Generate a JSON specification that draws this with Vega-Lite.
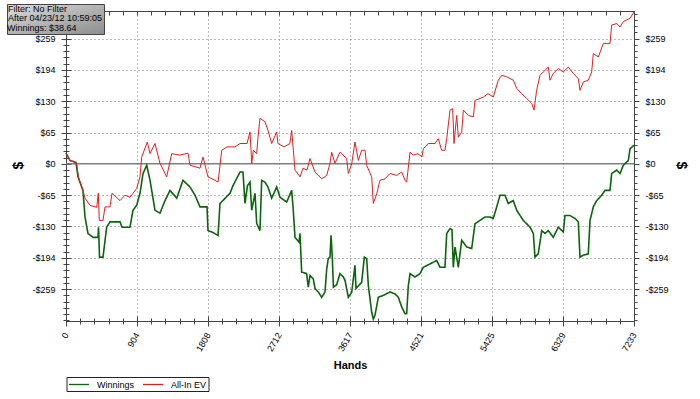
{
  "$schema": "https://vega.github.io/schema/vega-lite/v6.json",
  "autosize": {"type": "none"},
  "padding": {"left": 66, "top": 11, "right": 66, "bottom": 78},
  "width": 568,
  "height": 310,
  "background": "white",
  "config": {
    "font": "Liberation Sans",
    "view": {"stroke": "#444", "strokeWidth": 1},
    "axis": {"labelFont": "Liberation Sans", "labelFontSize": 9, "labelColor": "#000", "domainColor": "#444", "tickColor": "#444", "labelOverlap": false, "labelBound": false, "labelFlush": false}
  },
  "datasets": {
    "pts": [
      {"series": "Winnings", "hands": 0, "dollars": 22},
      {"series": "Winnings", "hands": 51, "dollars": 7},
      {"series": "Winnings", "hands": 127, "dollars": 3},
      {"series": "Winnings", "hands": 153, "dollars": -27},
      {"series": "Winnings", "hands": 216, "dollars": -55},
      {"series": "Winnings", "hands": 242, "dollars": -110},
      {"series": "Winnings", "hands": 280, "dollars": -144},
      {"series": "Winnings", "hands": 344, "dollars": -152},
      {"series": "Winnings", "hands": 407, "dollars": -152},
      {"series": "Winnings", "hands": 414, "dollars": -131},
      {"series": "Winnings", "hands": 427, "dollars": -193},
      {"series": "Winnings", "hands": 471, "dollars": -193},
      {"series": "Winnings", "hands": 518, "dollars": -131},
      {"series": "Winnings", "hands": 560, "dollars": -120},
      {"series": "Winnings", "hands": 688, "dollars": -120},
      {"series": "Winnings", "hands": 713, "dollars": -131},
      {"series": "Winnings", "hands": 815, "dollars": -131},
      {"series": "Winnings", "hands": 853, "dollars": -96},
      {"series": "Winnings", "hands": 900, "dollars": -86},
      {"series": "Winnings", "hands": 942, "dollars": -61},
      {"series": "Winnings", "hands": 981, "dollars": -20},
      {"series": "Winnings", "hands": 1028, "dollars": -3},
      {"series": "Winnings", "hands": 1070, "dollars": -34},
      {"series": "Winnings", "hands": 1133, "dollars": -96},
      {"series": "Winnings", "hands": 1197, "dollars": -102},
      {"series": "Winnings", "hands": 1261, "dollars": -76},
      {"series": "Winnings", "hands": 1324, "dollars": -55},
      {"series": "Winnings", "hands": 1410, "dollars": -71},
      {"series": "Winnings", "hands": 1490, "dollars": -34},
      {"series": "Winnings", "hands": 1579, "dollars": -48},
      {"series": "Winnings", "hands": 1643, "dollars": -65},
      {"series": "Winnings", "hands": 1706, "dollars": -89},
      {"series": "Winnings", "hands": 1796, "dollars": -89},
      {"series": "Winnings", "hands": 1808, "dollars": -138},
      {"series": "Winnings", "hands": 1872, "dollars": -142},
      {"series": "Winnings", "hands": 1936, "dollars": -148},
      {"series": "Winnings", "hands": 1961, "dollars": -82},
      {"series": "Winnings", "hands": 2088, "dollars": -61},
      {"series": "Winnings", "hands": 2127, "dollars": -45},
      {"series": "Winnings", "hands": 2216, "dollars": -17},
      {"series": "Winnings", "hands": 2254, "dollars": -17},
      {"series": "Winnings", "hands": 2279, "dollars": -82},
      {"series": "Winnings", "hands": 2311, "dollars": -45},
      {"series": "Winnings", "hands": 2343, "dollars": -38},
      {"series": "Winnings", "hands": 2365, "dollars": -96},
      {"series": "Winnings", "hands": 2407, "dollars": -61},
      {"series": "Winnings", "hands": 2428, "dollars": -123},
      {"series": "Winnings", "hands": 2470, "dollars": -138},
      {"series": "Winnings", "hands": 2492, "dollars": -34},
      {"series": "Winnings", "hands": 2534, "dollars": -38},
      {"series": "Winnings", "hands": 2572, "dollars": -48},
      {"series": "Winnings", "hands": 2619, "dollars": -71},
      {"series": "Winnings", "hands": 2683, "dollars": -48},
      {"series": "Winnings", "hands": 2725, "dollars": -69},
      {"series": "Winnings", "hands": 2810, "dollars": -79},
      {"series": "Winnings", "hands": 2874, "dollars": -55},
      {"series": "Winnings", "hands": 2894, "dollars": -96},
      {"series": "Winnings", "hands": 2916, "dollars": -152},
      {"series": "Winnings", "hands": 2967, "dollars": -162},
      {"series": "Winnings", "hands": 2980, "dollars": -144},
      {"series": "Winnings", "hands": 3001, "dollars": -224},
      {"series": "Winnings", "hands": 3064, "dollars": -227},
      {"series": "Winnings", "hands": 3085, "dollars": -255},
      {"series": "Winnings", "hands": 3107, "dollars": -231},
      {"series": "Winnings", "hands": 3149, "dollars": -238},
      {"series": "Winnings", "hands": 3171, "dollars": -258},
      {"series": "Winnings", "hands": 3213, "dollars": -265},
      {"series": "Winnings", "hands": 3256, "dollars": -276},
      {"series": "Winnings", "hands": 3298, "dollars": -265},
      {"series": "Winnings", "hands": 3320, "dollars": -217},
      {"series": "Winnings", "hands": 3340, "dollars": -196},
      {"series": "Winnings", "hands": 3362, "dollars": -193},
      {"series": "Winnings", "hands": 3375, "dollars": -148},
      {"series": "Winnings", "hands": 3392, "dollars": -196},
      {"series": "Winnings", "hands": 3405, "dollars": -255},
      {"series": "Winnings", "hands": 3447, "dollars": -250},
      {"series": "Winnings", "hands": 3489, "dollars": -227},
      {"series": "Winnings", "hands": 3532, "dollars": -234},
      {"series": "Winnings", "hands": 3553, "dollars": -241},
      {"series": "Winnings", "hands": 3595, "dollars": -276},
      {"series": "Winnings", "hands": 3638, "dollars": -266},
      {"series": "Winnings", "hands": 3680, "dollars": -210},
      {"series": "Winnings", "hands": 3693, "dollars": -258},
      {"series": "Winnings", "hands": 3765, "dollars": -245},
      {"series": "Winnings", "hands": 3799, "dollars": -193},
      {"series": "Winnings", "hands": 3829, "dollars": -196},
      {"series": "Winnings", "hands": 3850, "dollars": -252},
      {"series": "Winnings", "hands": 3893, "dollars": -307},
      {"series": "Winnings", "hands": 3913, "dollars": -321},
      {"series": "Winnings", "hands": 3935, "dollars": -313},
      {"series": "Winnings", "hands": 3977, "dollars": -276},
      {"series": "Winnings", "hands": 4040, "dollars": -272},
      {"series": "Winnings", "hands": 4126, "dollars": -265},
      {"series": "Winnings", "hands": 4190, "dollars": -269},
      {"series": "Winnings", "hands": 4232, "dollars": -276},
      {"series": "Winnings", "hands": 4275, "dollars": -296},
      {"series": "Winnings", "hands": 4317, "dollars": -310},
      {"series": "Winnings", "hands": 4338, "dollars": -310},
      {"series": "Winnings", "hands": 4359, "dollars": -252},
      {"series": "Winnings", "hands": 4381, "dollars": -227},
      {"series": "Winnings", "hands": 4444, "dollars": -234},
      {"series": "Winnings", "hands": 4508, "dollars": -227},
      {"series": "Winnings", "hands": 4550, "dollars": -214},
      {"series": "Winnings", "hands": 4635, "dollars": -207},
      {"series": "Winnings", "hands": 4721, "dollars": -200},
      {"series": "Winnings", "hands": 4763, "dollars": -214},
      {"series": "Winnings", "hands": 4826, "dollars": -214},
      {"series": "Winnings", "hands": 4848, "dollars": -144},
      {"series": "Winnings", "hands": 4890, "dollars": -134},
      {"series": "Winnings", "hands": 4915, "dollars": -136},
      {"series": "Winnings", "hands": 4932, "dollars": -214},
      {"series": "Winnings", "hands": 4954, "dollars": -172},
      {"series": "Winnings", "hands": 4996, "dollars": -214},
      {"series": "Winnings", "hands": 5039, "dollars": -158},
      {"series": "Winnings", "hands": 5103, "dollars": -172},
      {"series": "Winnings", "hands": 5166, "dollars": -175},
      {"series": "Winnings", "hands": 5208, "dollars": -124},
      {"series": "Winnings", "hands": 5272, "dollars": -117},
      {"series": "Winnings", "hands": 5335, "dollars": -110},
      {"series": "Winnings", "hands": 5399, "dollars": -110},
      {"series": "Winnings", "hands": 5441, "dollars": -113},
      {"series": "Winnings", "hands": 5485, "dollars": -89},
      {"series": "Winnings", "hands": 5527, "dollars": -65},
      {"series": "Winnings", "hands": 5590, "dollars": -65},
      {"series": "Winnings", "hands": 5632, "dollars": -82},
      {"series": "Winnings", "hands": 5696, "dollars": -76},
      {"series": "Winnings", "hands": 5739, "dollars": -96},
      {"series": "Winnings", "hands": 5823, "dollars": -117},
      {"series": "Winnings", "hands": 5909, "dollars": -131},
      {"series": "Winnings", "hands": 5951, "dollars": -144},
      {"series": "Winnings", "hands": 5972, "dollars": -193},
      {"series": "Winnings", "hands": 6014, "dollars": -186},
      {"series": "Winnings", "hands": 6058, "dollars": -138},
      {"series": "Winnings", "hands": 6100, "dollars": -144},
      {"series": "Winnings", "hands": 6142, "dollars": -138},
      {"series": "Winnings", "hands": 6205, "dollars": -152},
      {"series": "Winnings", "hands": 6269, "dollars": -131},
      {"series": "Winnings", "hands": 6333, "dollars": -141},
      {"series": "Winnings", "hands": 6354, "dollars": -107},
      {"series": "Winnings", "hands": 6418, "dollars": -107},
      {"series": "Winnings", "hands": 6482, "dollars": -113},
      {"series": "Winnings", "hands": 6524, "dollars": -120},
      {"series": "Winnings", "hands": 6545, "dollars": -193},
      {"series": "Winnings", "hands": 6587, "dollars": -189},
      {"series": "Winnings", "hands": 6651, "dollars": -186},
      {"series": "Winnings", "hands": 6673, "dollars": -117},
      {"series": "Winnings", "hands": 6715, "dollars": -89},
      {"series": "Winnings", "hands": 6758, "dollars": -76},
      {"series": "Winnings", "hands": 6822, "dollars": -65},
      {"series": "Winnings", "hands": 6864, "dollars": -55},
      {"series": "Winnings", "hands": 6927, "dollars": -55},
      {"series": "Winnings", "hands": 6949, "dollars": -20},
      {"series": "Winnings", "hands": 7013, "dollars": -13},
      {"series": "Winnings", "hands": 7055, "dollars": -20},
      {"series": "Winnings", "hands": 7097, "dollars": -3},
      {"series": "Winnings", "hands": 7161, "dollars": 7},
      {"series": "Winnings", "hands": 7182, "dollars": 31},
      {"series": "Winnings", "hands": 7233, "dollars": 38.64},
      {"series": "All-In EV", "hands": 0, "dollars": 22},
      {"series": "All-In EV", "hands": 51, "dollars": 7},
      {"series": "All-In EV", "hands": 136, "dollars": 1},
      {"series": "All-In EV", "hands": 157, "dollars": -27},
      {"series": "All-In EV", "hands": 216, "dollars": -55},
      {"series": "All-In EV", "hands": 242, "dollars": -71},
      {"series": "All-In EV", "hands": 306, "dollars": -86},
      {"series": "All-In EV", "hands": 391, "dollars": -90},
      {"series": "All-In EV", "hands": 411, "dollars": -61},
      {"series": "All-In EV", "hands": 424, "dollars": -117},
      {"series": "All-In EV", "hands": 471, "dollars": -117},
      {"series": "All-In EV", "hands": 497, "dollars": -89},
      {"series": "All-In EV", "hands": 560, "dollars": -89},
      {"series": "All-In EV", "hands": 586, "dollars": -61},
      {"series": "All-In EV", "hands": 688, "dollars": -76},
      {"series": "All-In EV", "hands": 751, "dollars": -65},
      {"series": "All-In EV", "hands": 815, "dollars": -69},
      {"series": "All-In EV", "hands": 900, "dollars": -51},
      {"series": "All-In EV", "hands": 942, "dollars": -27},
      {"series": "All-In EV", "hands": 964, "dollars": 14},
      {"series": "All-In EV", "hands": 1035, "dollars": 45},
      {"series": "All-In EV", "hands": 1070, "dollars": 21},
      {"series": "All-In EV", "hands": 1133, "dollars": 42},
      {"series": "All-In EV", "hands": 1197, "dollars": 1},
      {"series": "All-In EV", "hands": 1261, "dollars": -20},
      {"series": "All-In EV", "hands": 1282, "dollars": -27},
      {"series": "All-In EV", "hands": 1346, "dollars": 21},
      {"series": "All-In EV", "hands": 1452, "dollars": 18},
      {"series": "All-In EV", "hands": 1554, "dollars": 22},
      {"series": "All-In EV", "hands": 1579, "dollars": -3},
      {"series": "All-In EV", "hands": 1706, "dollars": -9},
      {"series": "All-In EV", "hands": 1745, "dollars": 14},
      {"series": "All-In EV", "hands": 1808, "dollars": -27},
      {"series": "All-In EV", "hands": 1897, "dollars": -34},
      {"series": "All-In EV", "hands": 1936, "dollars": -38},
      {"series": "All-In EV", "hands": 1983, "dollars": 28},
      {"series": "All-In EV", "hands": 2050, "dollars": 35},
      {"series": "All-In EV", "hands": 2152, "dollars": 35},
      {"series": "All-In EV", "hands": 2216, "dollars": 42},
      {"series": "All-In EV", "hands": 2305, "dollars": 42},
      {"series": "All-In EV", "hands": 2343, "dollars": 66},
      {"series": "All-In EV", "hands": 2365, "dollars": 1},
      {"series": "All-In EV", "hands": 2385, "dollars": 28},
      {"series": "All-In EV", "hands": 2428, "dollars": 21},
      {"series": "All-In EV", "hands": 2445, "dollars": 55},
      {"series": "All-In EV", "hands": 2470, "dollars": 94},
      {"series": "All-In EV", "hands": 2534, "dollars": 87},
      {"series": "All-In EV", "hands": 2572, "dollars": 69},
      {"series": "All-In EV", "hands": 2619, "dollars": 42},
      {"series": "All-In EV", "hands": 2683, "dollars": 66},
      {"series": "All-In EV", "hands": 2699, "dollars": 42},
      {"series": "All-In EV", "hands": 2776, "dollars": 35},
      {"series": "All-In EV", "hands": 2852, "dollars": 42},
      {"series": "All-In EV", "hands": 2874, "dollars": 69},
      {"series": "All-In EV", "hands": 2916, "dollars": -13},
      {"series": "All-In EV", "hands": 2980, "dollars": -27},
      {"series": "All-In EV", "hands": 3018, "dollars": -9},
      {"series": "All-In EV", "hands": 3069, "dollars": -13},
      {"series": "All-In EV", "hands": 3107, "dollars": 11},
      {"series": "All-In EV", "hands": 3171, "dollars": -17},
      {"series": "All-In EV", "hands": 3256, "dollars": -31},
      {"series": "All-In EV", "hands": 3320, "dollars": -24},
      {"series": "All-In EV", "hands": 3362, "dollars": 1},
      {"series": "All-In EV", "hands": 3383, "dollars": 24},
      {"series": "All-In EV", "hands": 3425, "dollars": 1},
      {"series": "All-In EV", "hands": 3489, "dollars": 24},
      {"series": "All-In EV", "hands": 3574, "dollars": 11},
      {"series": "All-In EV", "hands": 3595, "dollars": -20},
      {"series": "All-In EV", "hands": 3638, "dollars": 0},
      {"series": "All-In EV", "hands": 3680, "dollars": 45},
      {"series": "All-In EV", "hands": 3723, "dollars": 7},
      {"series": "All-In EV", "hands": 3765, "dollars": 28},
      {"series": "All-In EV", "hands": 3808, "dollars": 28},
      {"series": "All-In EV", "hands": 3829, "dollars": -3},
      {"series": "All-In EV", "hands": 3893, "dollars": -27},
      {"series": "All-In EV", "hands": 3913, "dollars": -82},
      {"series": "All-In EV", "hands": 3957, "dollars": -62},
      {"series": "All-In EV", "hands": 3998, "dollars": -34},
      {"series": "All-In EV", "hands": 4062, "dollars": -31},
      {"series": "All-In EV", "hands": 4126, "dollars": -20},
      {"series": "All-In EV", "hands": 4211, "dollars": -24},
      {"series": "All-In EV", "hands": 4275, "dollars": -17},
      {"series": "All-In EV", "hands": 4317, "dollars": -34},
      {"series": "All-In EV", "hands": 4338, "dollars": -38},
      {"series": "All-In EV", "hands": 4381, "dollars": 24},
      {"series": "All-In EV", "hands": 4423, "dollars": 18},
      {"series": "All-In EV", "hands": 4482, "dollars": 21},
      {"series": "All-In EV", "hands": 4533, "dollars": 14},
      {"series": "All-In EV", "hands": 4550, "dollars": 31},
      {"series": "All-In EV", "hands": 4614, "dollars": 42},
      {"series": "All-In EV", "hands": 4699, "dollars": 42},
      {"series": "All-In EV", "hands": 4741, "dollars": 52},
      {"series": "All-In EV", "hands": 4784, "dollars": 28},
      {"series": "All-In EV", "hands": 4826, "dollars": 28},
      {"series": "All-In EV", "hands": 4848, "dollars": 52},
      {"series": "All-In EV", "hands": 4890, "dollars": 111},
      {"series": "All-In EV", "hands": 4924, "dollars": 114},
      {"series": "All-In EV", "hands": 4941, "dollars": 42},
      {"series": "All-In EV", "hands": 4975, "dollars": 100},
      {"series": "All-In EV", "hands": 4996, "dollars": 55},
      {"series": "All-In EV", "hands": 5039, "dollars": 66},
      {"series": "All-In EV", "hands": 5060, "dollars": 111},
      {"series": "All-In EV", "hands": 5123, "dollars": 100},
      {"series": "All-In EV", "hands": 5187, "dollars": 97},
      {"series": "All-In EV", "hands": 5208, "dollars": 131},
      {"series": "All-In EV", "hands": 5314, "dollars": 138},
      {"series": "All-In EV", "hands": 5374, "dollars": 145},
      {"series": "All-In EV", "hands": 5441, "dollars": 138},
      {"series": "All-In EV", "hands": 5505, "dollars": 173},
      {"series": "All-In EV", "hands": 5548, "dollars": 183},
      {"series": "All-In EV", "hands": 5611, "dollars": 180},
      {"series": "All-In EV", "hands": 5696, "dollars": 173},
      {"series": "All-In EV", "hands": 5739, "dollars": 156},
      {"series": "All-In EV", "hands": 5803, "dollars": 145},
      {"series": "All-In EV", "hands": 5867, "dollars": 135},
      {"series": "All-In EV", "hands": 5930, "dollars": 125},
      {"series": "All-In EV", "hands": 5960, "dollars": 111},
      {"series": "All-In EV", "hands": 5993, "dollars": 152},
      {"series": "All-In EV", "hands": 6036, "dollars": 183},
      {"series": "All-In EV", "hands": 6078, "dollars": 190},
      {"series": "All-In EV", "hands": 6142, "dollars": 200},
      {"series": "All-In EV", "hands": 6163, "dollars": 173},
      {"series": "All-In EV", "hands": 6205, "dollars": 187},
      {"series": "All-In EV", "hands": 6269, "dollars": 197},
      {"series": "All-In EV", "hands": 6333, "dollars": 190},
      {"series": "All-In EV", "hands": 6396, "dollars": 200},
      {"series": "All-In EV", "hands": 6460, "dollars": 187},
      {"series": "All-In EV", "hands": 6524, "dollars": 176},
      {"series": "All-In EV", "hands": 6545, "dollars": 152},
      {"series": "All-In EV", "hands": 6587, "dollars": 169},
      {"series": "All-In EV", "hands": 6651, "dollars": 173},
      {"series": "All-In EV", "hands": 6694, "dollars": 190},
      {"series": "All-In EV", "hands": 6715, "dollars": 228},
      {"series": "All-In EV", "hands": 6779, "dollars": 221},
      {"series": "All-In EV", "hands": 6843, "dollars": 249},
      {"series": "All-In EV", "hands": 6927, "dollars": 249},
      {"series": "All-In EV", "hands": 6949, "dollars": 287},
      {"series": "All-In EV", "hands": 7013, "dollars": 290},
      {"series": "All-In EV", "hands": 7055, "dollars": 283},
      {"series": "All-In EV", "hands": 7097, "dollars": 294},
      {"series": "All-In EV", "hands": 7182, "dollars": 301},
      {"series": "All-In EV", "hands": 7233, "dollars": 314}
    ]
  },
  "resolve": {"axis": {"x": "independent", "y": "independent"}},
  "layer": [
    {
      "data": {"values": [{"zero": 0, "start": 0, "end": 7233}]},
      "mark": {"type": "rule", "color": "#808080", "strokeWidth": 1.5},
      "encoding": {
        "x": {"field": "start", "type": "quantitative", "scale": {"domain": [0, 7233], "nice": false, "zero": false},
          "axis": {"orient": "top", "values": [0, 180.825, 361.65, 542.475, 723.3, 904.125, 1084.95, 1265.775, 1446.6, 1627.425, 1808.25, 1989.075, 2169.9, 2350.725, 2531.55, 2712.375, 2893.2, 3074.025, 3254.85, 3435.675, 3616.5, 3797.325, 3978.15, 4158.975, 4339.8, 4520.625, 4701.45, 4882.275, 5063.1, 5243.925, 5424.75, 5605.575, 5786.4, 5967.225, 6148.05, 6328.875, 6509.7, 6690.525, 6871.35, 7052.175, 7233],
            "labels": false, "grid": false, "domain": false, "title": null, "tickSize": -4}},
        "x2": {"field": "end"},
        "y": {"field": "zero", "type": "quantitative", "scale": {"domain": [-325, 316], "nice": false, "zero": false},
          "axis": {"orient": "right", "values": [-323.75, -310.8, -297.85, -284.9, -271.95, -259, -246.05, -233.1, -220.15, -207.2, -194.25, -181.3, -168.35, -155.4, -142.45, -129.5, -116.55, -103.6, -90.65, -77.7, -64.75, -51.8, -38.85, -25.9, -12.95, 0, 12.95, 25.9, 38.85, 51.8, 64.75, 77.7, 90.65, 103.6, 116.55, 129.5, 142.45, 155.4, 168.35, 181.3, 194.25, 207.2, 220.15, 233.1, 246.05, 259, 271.95, 284.9, 297.85, 310.8],
            "labelExpr": "abs(datum.value) < 300 && abs(datum.value/64.75 - round(datum.value/64.75)) < 0.01 ? (datum.value < -0.5 ? '-$' : '$') + round(abs(datum.value)) : ''",
            "tickSize": {"condition": {"test": "abs(datum.value) < 300 && abs(datum.value/64.75 - round(datum.value/64.75)) < 0.01", "value": 5}, "value": 3},
            "labelPadding": 6, "grid": false, "title": "$", "titleFontSize": 14, "titleFontWeight": "bold", "titleAngle": 90, "titleX": 46, "titleY": 154, "titleBaseline": "middle", "titleAlign": "center", "titleColor": "#000"}}
      }
    },
    {
      "data": {"name": "pts"},
      "transform": [{"filter": "datum.series == 'Winnings'"}],
      "mark": {"type": "line", "strokeWidth": 1.6},
      "encoding": {
        "x": {"field": "hands", "type": "quantitative", "scale": {"domain": [0, 7233], "nice": false, "zero": false},
          "axis": {"orient": "bottom", "values": [0, 180.825, 361.65, 542.475, 723.3, 904.125, 1084.95, 1265.775, 1446.6, 1627.425, 1808.25, 1989.075, 2169.9, 2350.725, 2531.55, 2712.375, 2893.2, 3074.025, 3254.85, 3435.675, 3616.5, 3797.325, 3978.15, 4158.975, 4339.8, 4520.625, 4701.45, 4882.275, 5063.1, 5243.925, 5424.75, 5605.575, 5786.4, 5967.225, 6148.05, 6328.875, 6509.7, 6690.525, 6871.35, 7052.175, 7233],
            "labelExpr": "abs(datum.value/904.125 - round(datum.value/904.125)) < 0.01 ? '' + round(datum.value) : ''",
            "tickSize": {"condition": {"test": "abs(datum.value/904.125 - round(datum.value/904.125)) < 0.01", "value": 5}, "value": 3},
            "grid": true, "gridColor": "#777", "gridDash": [1, 3],
            "gridOpacity": {"condition": {"test": "abs(datum.value/904.125 - round(datum.value/904.125)) < 0.01 && datum.value > 1 && datum.value < 7232", "value": 1}, "value": 0},
            "labelAngle": -60, "labelAlign": "right", "labelBaseline": "middle", "labelPadding": 7,
            "title": "Hands", "titleFontSize": 11, "titleFontWeight": "bold", "titleY": 47, "titleBaseline": "alphabetic", "titleColor": "#000"}},
        "y": {"field": "dollars", "type": "quantitative", "scale": {"domain": [-325, 316], "nice": false, "zero": false},
          "axis": {"orient": "left", "values": [-323.75, -310.8, -297.85, -284.9, -271.95, -259, -246.05, -233.1, -220.15, -207.2, -194.25, -181.3, -168.35, -155.4, -142.45, -129.5, -116.55, -103.6, -90.65, -77.7, -64.75, -51.8, -38.85, -25.9, -12.95, 0, 12.95, 25.9, 38.85, 51.8, 64.75, 77.7, 90.65, 103.6, 116.55, 129.5, 142.45, 155.4, 168.35, 181.3, 194.25, 207.2, 220.15, 233.1, 246.05, 259, 271.95, 284.9, 297.85, 310.8],
            "labelExpr": "abs(datum.value) < 300 && abs(datum.value/64.75 - round(datum.value/64.75)) < 0.01 ? (datum.value < -0.5 ? '-$' : '$') + round(abs(datum.value)) : ''",
            "tickSize": {"condition": {"test": "abs(datum.value) < 300 && abs(datum.value/64.75 - round(datum.value/64.75)) < 0.01", "value": 5}, "value": 3},
            "labelPadding": 6,
            "grid": true, "gridColor": "#777", "gridDash": [1, 3],
            "gridOpacity": {"condition": {"test": "abs(datum.value) < 300 && abs(datum.value/64.75 - round(datum.value/64.75)) < 0.01 && abs(datum.value) > 1", "value": 1}, "value": 0},
            "title": "$", "titleFontSize": 14, "titleFontWeight": "bold", "titleX": -48, "titleY": 154, "titleBaseline": "middle", "titleAlign": "center", "titleColor": "#000"}},
        "color": {"field": "series", "type": "nominal",
          "scale": {"domain": ["Winnings", "All-In EV"], "range": ["#0b650b", "#e02020"]},
          "legend": {"orient": "none", "legendX": 0.5, "legendY": 366, "direction": "horizontal", "title": null,
            "padding": 1.5, "strokeColor": "#222", "fillColor": "#fff", "symbolType": "M-1,0H3", "symbolSize": 100, "symbolStrokeWidth": 1.3,
            "labelOffset": 17, "columnPadding": 5, "labelFontSize": 9, "labelColor": "#000", "labelFont": "Liberation Sans"}},
        "strokeDash": {"datum": "Winnings: $38.64", "type": "nominal", "scale": {"range": [[1, 0]]},
          "legend": {"orient": "none", "legendX": -59, "legendY": -7, "title": ["Filter: No Filter", "After 04/23/12 10:59:05"],
            "titleFontSize": 9, "titleFontWeight": "normal", "titleColor": "#000", "titleLineHeight": 9, "titlePadding": 0, "titleFont": "Liberation Sans",
            "symbolSize": 0, "symbolOpacity": 0, "symbolStrokeWidth": 0, "labelOffset": -10, "labelFontSize": 9, "labelColor": "#000", "labelFont": "Liberation Sans",
            "padding": 1, "strokeColor": "#444",
            "encode": {"legend": {"update": {"fill": {"value": {"gradient": "linear", "x1": 0, "y1": 0, "x2": 1, "y2": 1, "stops": [{"offset": 0, "color": "#dcdcdc"}, {"offset": 1, "color": "#8c8c8c"}]}}}}}}}
      }
    },
    {
      "data": {"name": "pts"},
      "transform": [{"filter": "datum.series == 'All-In EV'"}],
      "mark": {"type": "line", "strokeWidth": 1},
      "encoding": {
        "x": {"field": "hands", "type": "quantitative", "scale": {"domain": [0, 7233], "nice": false, "zero": false},
          "axis": {"orient": "bottom", "values": [0, 180.825, 361.65, 542.475, 723.3, 904.125, 1084.95, 1265.775, 1446.6, 1627.425, 1808.25, 1989.075, 2169.9, 2350.725, 2531.55, 2712.375, 2893.2, 3074.025, 3254.85, 3435.675, 3616.5, 3797.325, 3978.15, 4158.975, 4339.8, 4520.625, 4701.45, 4882.275, 5063.1, 5243.925, 5424.75, 5605.575, 5786.4, 5967.225, 6148.05, 6328.875, 6509.7, 6690.525, 6871.35, 7052.175, 7233],
            "labels": false, "grid": false, "domain": false, "title": null,
            "tickSize": {"condition": {"test": "abs(datum.value/904.125 - round(datum.value/904.125)) < 0.01", "value": -5}, "value": -3}}},
        "y": {"field": "dollars", "type": "quantitative", "scale": {"domain": [-325, 316], "nice": false, "zero": false},
          "axis": {"orient": "left", "values": [-323.75, -310.8, -297.85, -284.9, -271.95, -259, -246.05, -233.1, -220.15, -207.2, -194.25, -181.3, -168.35, -155.4, -142.45, -129.5, -116.55, -103.6, -90.65, -77.7, -64.75, -51.8, -38.85, -25.9, -12.95, 0, 12.95, 25.9, 38.85, 51.8, 64.75, 77.7, 90.65, 103.6, 116.55, 129.5, 142.45, 155.4, 168.35, 181.3, 194.25, 207.2, 220.15, 233.1, 246.05, 259, 271.95, 284.9, 297.85, 310.8],
            "labels": false, "grid": false, "domain": false, "title": null,
            "tickSize": {"condition": {"test": "abs(datum.value) < 300 && abs(datum.value/64.75 - round(datum.value/64.75)) < 0.01", "value": -5}, "value": -3}}},
        "color": {"field": "series", "type": "nominal", "scale": {"domain": ["Winnings", "All-In EV"], "range": ["#0b650b", "#e02020"]}}
      }
    }
  ]
}
